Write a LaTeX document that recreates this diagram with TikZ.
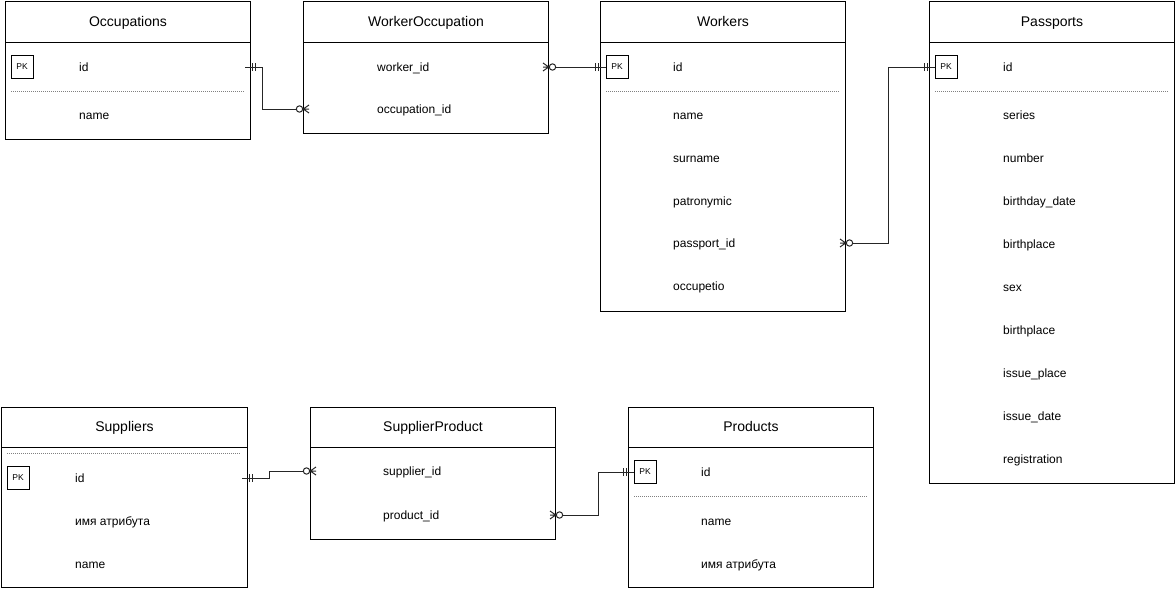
\documentclass[tikz,border=0pt]{standalone}
\usepackage{fontspec}
\setmainfont{Liberation Sans}
\tikzset{
    tbl/.style={draw, anchor=north west, minimum width=245pt, inner sep=0pt, line width=1pt},
    ttl/.style={inner sep=0pt, text height=11pt, text depth=3pt,
        font=\fontsize{14}{16}\selectfont},
    fld/.style={anchor=west, inner sep=0pt, text height=10.5pt, text depth=2pt,
        font=\fontsize{12}{14}\selectfont},
    pk/.style={draw, line width=1pt, minimum width=22pt, minimum height=23pt,
        inner sep=0pt, font=\fontsize{8.5}{10}\selectfont},
    dotsep/.style={gray, line width=1pt, dash pattern=on 1pt off 1pt},
    hdr/.style={line width=1pt},
    rel/.style={line width=1pt, black!85},
    onemark/.pic={\draw[rel] (1.5,-4) -- (1.5,4) (4.2,-4) -- (4.2,4);},
    manymark/.pic={\draw[rel] (3.5,0) circle[radius=3.2];
        \draw[rel] (-6,-4) -- (-0.3,0) -- (-6,4) (-6,0) -- (0.3,0);},
    }

\begin{document}
\begin{tikzpicture}[x=1pt, y=-1pt]
\useasboundingbox (0,0) rectangle (1176,589);

% Occupations
\node[tbl, minimum height=138pt] (occ) at (5,1) {};
\node[ttl] (occ-t) at ([yshift=-21pt]occ.north) {Occupations};
\draw[hdr] ([yshift=-41pt]occ.north west) -- ([yshift=-41pt]occ.north east);
\node[pk] (occ-pk) at (22,67) {PK};
\node[fld] (occ-id) at (79,67) {id};
\draw[dotsep] (11,91) -- (244,91);
\node[fld] (occ-name) at (79,115) {name};

% WorkerOccupation
\node[tbl, minimum height=132pt] (wo) at (303,1) {};
\node[ttl] (wo-t) at ([yshift=-21pt]wo.north) {WorkerOccupation};
\draw[hdr] ([yshift=-41pt]wo.north west) -- ([yshift=-41pt]wo.north east);
\node[fld] (wo-wid) at (377,67) {worker\_id};
\node[fld] (wo-oid) at (377,109) {occupation\_id};

% Workers
\node[tbl, minimum height=310pt] (wrk) at (600,1) {};
\node[ttl] (wrk-t) at ([yshift=-21pt]wrk.north) {Workers};
\draw[hdr] ([yshift=-41pt]wrk.north west) -- ([yshift=-41pt]wrk.north east);
\node[pk] (wrk-pk) at (617,67) {PK};
\node[fld] (wrk-id) at (673,67) {id};
\draw[dotsep] (606,91) -- (839,91);
\foreach \y/\t/\n in {115/name/name, 158/surname/sur, 201/patronymic/pat,
    243/passport\_id/pid, 286/occupetio/occ}
    \node[fld] (wrk-\n) at (673,\y) {\t};

% Passports
\node[tbl, minimum height=482pt] (psp) at (929,1) {};
\node[ttl] (psp-t) at ([yshift=-21pt]psp.north) {Passports};
\draw[hdr] ([yshift=-41pt]psp.north west) -- ([yshift=-41pt]psp.north east);
\node[pk] (psp-pk) at (946,67) {PK};
\node[fld] (psp-id) at (1003,67) {id};
\draw[dotsep] (935,91) -- (1168,91);
\foreach \y/\t/\n in {115/series/ser, 158/number/num, 201/birthday\_date/bd,
    244/birthplace/bp, 287/sex/sex, 330/birthplace/bpb, 373/issue\_place/ip,
    416/issue\_date/id2, 459/registration/reg}
    \node[fld] (psp-\n) at (1003,\y) {\t};

% Suppliers
\node[tbl, minimum width=246pt, minimum height=180pt] (sup) at (1,407) {};
\node[ttl] (sup-t) at ([yshift=-20pt]sup.north) {Suppliers};
\draw[hdr] ([yshift=-40pt]sup.north west) -- ([yshift=-40pt]sup.north east);
\draw[dotsep] (7,453) -- (240,453);
\node[pk] (sup-pk) at (18,478) {PK};
\node[fld] (sup-id) at (75,478) {id};
\node[fld] (sup-attr) at (75,521) {имя атрибута};
\node[fld] (sup-name) at (75,564) {name};

% SupplierProduct
\node[tbl, minimum height=132pt] (sp) at (310,407) {};
\node[ttl] (sp-t) at ([yshift=-20pt]sp.north) {SupplierProduct};
\draw[hdr] ([yshift=-40pt]sp.north west) -- ([yshift=-40pt]sp.north east);
\node[fld] (sp-sid) at (383,471) {supplier\_id};
\node[fld] (sp-pid) at (383,515) {product\_id};

% Products
\node[tbl, minimum height=180pt] (prd) at (628,407) {};
\node[ttl] (prd-t) at ([yshift=-20pt]prd.north) {Products};
\draw[hdr] ([yshift=-40pt]prd.north west) -- ([yshift=-40pt]prd.north east);
\node[pk] (prd-pk) at (645,472) {PK};
\node[fld] (prd-id) at (701,472) {id};
\draw[dotsep] (634,496) -- (867,496);
\node[fld] (prd-name) at (701,521) {name};
\node[fld] (prd-attr) at (701,564) {имя атрибута};

% relations
\draw[rel] ([xshift=-6pt]occ-id -| occ.east) -- ++(17,0) |- ([xshift=-6.7pt]wo-oid -| wo.west);
\pic at (occ-id -| occ.east) {onemark};
\pic[rotate=180] at (wo-oid -| wo.west) {manymark};

\draw[rel] ([xshift=6.7pt]wo-wid -| wo.east) -- (wrk-pk.west);
\pic at (wo-wid -| wo.east) {manymark};
\pic[rotate=180] at (wrk-id -| wrk.west) {onemark};

\draw[rel] ([xshift=6.7pt]wrk-pid -| wrk.east) -- ++(35.3,0) |- (psp-pk.west);
\pic at (wrk-pid -| wrk.east) {manymark};
\pic[rotate=180] at (psp-id -| psp.west) {onemark};

\draw[rel] ([xshift=-6pt]sup-id -| sup.east) -- ++(27,0) |- ([xshift=-6.7pt]sp-sid -| sp.west);
\pic at (sup-id -| sup.east) {onemark};
\pic[rotate=180] at (sp-sid -| sp.west) {manymark};

\draw[rel] ([xshift=6.7pt]sp-pid -| sp.east) -- ++(35.3,0) |- (prd-pk.west);
\pic at (sp-pid -| sp.east) {manymark};
\pic[rotate=180] at (prd-id -| prd.west) {onemark};
\end{tikzpicture}
\end{document}
